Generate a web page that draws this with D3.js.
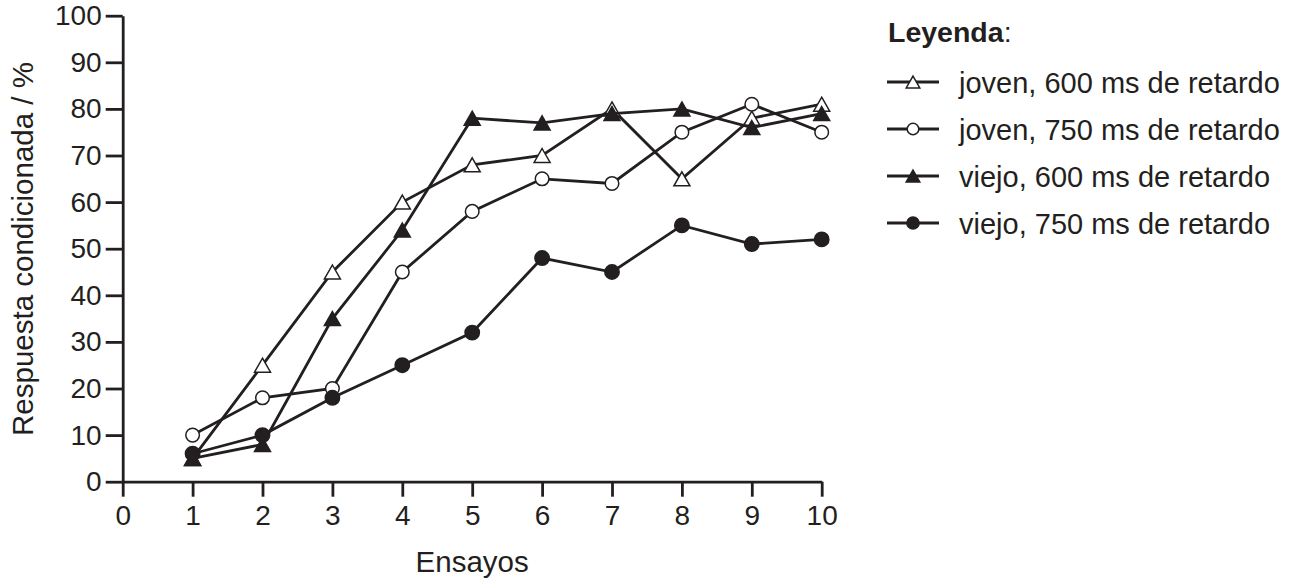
<!DOCTYPE html>
<html>
<head>
<meta charset="utf-8">
<script src="https://cdn.jsdelivr.net/npm/d3@7"></script>
<style>
html,body{margin:0;padding:0;background:#fff;}
svg text{font-family:"Liberation Sans",Arial,Helvetica,sans-serif;fill:#231f20;}
</style>
</head>
<body>
<svg id="chart" width="1302" height="579"></svg>
<script>
const trials = [1, 2, 3, 4, 5, 6, 7, 8, 9, 10];
const joven600 = [5, 25, 45, 60, 68, 70, 80, 65, 78, 81];
const joven750 = [10, 18, 20, 45, 58, 65, 64, 75, 81, 75];
const viejo600 = [5, 8, 35, 54, 78, 77, 79, 80, 76, 79];
const viejo750 = [6, 10, 18, 25, 32, 48, 45, 55, 51, 52];
const xTicks = [0, 1, 2, 3, 4, 5, 6, 7, 8, 9, 10];
const yTicks = [0, 10, 20, 30, 40, 50, 60, 70, 80, 90, 100];
const seriesNames = ["joven, 600 ms de retardo", "joven, 750 ms de retardo", "viejo, 600 ms de retardo", "viejo, 750 ms de retardo"];
const seriesShapes = ["triangle", "circle", "triangle", "circle"];
const seriesFilled = [false, false, true, true];
const xTitle = "Ensayos";
const yTitle = "Respuesta condicionada / %";
const legendTitle = "Leyenda";

const ink = "#231f20";
const svg = d3.select("#chart");
const x = d3.scaleLinear().domain([0, 10]).range([122.7, 821.7]);
const y = d3.scaleLinear().domain([0, 100]).range([481.7, 15.7]);

// axes
const xAxis = svg.append("g").attr("transform", `translate(0,${y(0)})`)
  .call(d3.axisBottom(x).tickValues(xTicks).tickSize(15).tickSizeOuter(0).tickPadding(8).tickFormat(d3.format("d")));
const yAxis = svg.append("g").attr("transform", `translate(${x(0)},0)`)
  .call(d3.axisLeft(y).tickValues(yTicks).tickSize(17).tickSizeOuter(0).tickPadding(4).tickFormat(d3.format("d")));
[xAxis, yAxis].forEach(g => {
  g.select(".domain").attr("stroke", ink).attr("stroke-width", 2.8);
  g.selectAll(".tick line").attr("stroke", ink).attr("stroke-width", 2.8);
  g.selectAll(".tick text").attr("font-size", 28).attr("fill", ink)
    .attr("font-family", '"Liberation Sans",Arial,sans-serif');
});

// titles
svg.append("text").attr("x", x(5)).attr("y", 571.5).attr("text-anchor", "middle")
  .attr("font-size", 29.5).text(xTitle);
svg.append("text").attr("transform", "translate(33,249) rotate(-90)").attr("text-anchor", "middle")
  .attr("font-size", 29.5).text(yTitle);

function marker(g, shape, filled, cx, cy, scale) {
  const s = scale || 1;
  if (shape === "triangle") {
    const w = 16 * s, h = 14 * s;
    g.append("path")
      .attr("d", `M${cx},${cy - h / 2}L${cx + w / 2},${cy + h / 2}L${cx - w / 2},${cy + h / 2}Z`)
      .attr("fill", filled ? ink : "#fff").attr("stroke", ink).attr("stroke-width", 1.5)
      .attr("stroke-linejoin", "miter");
  } else {
    g.append("circle").attr("cx", cx).attr("cy", cy).attr("r", (filled ? 7.2 : 6.8) * s)
      .attr("fill", filled ? ink : "#fff").attr("stroke", ink).attr("stroke-width", 1.5);
  }
}

const allSeries = [joven600, joven750, viejo600, viejo750];
const line = d3.line().x(d => x(d[0])).y(d => y(d[1]));
allSeries.forEach((vals, i) => {
  const g = svg.append("g");
  const pts = trials.map((t, j) => [t, vals[j]]);
  g.append("path").attr("d", line(pts)).attr("fill", "none").attr("stroke", ink)
    .attr("stroke-width", 2.8).attr("stroke-linejoin", "miter");
  pts.forEach(p => marker(g, seriesShapes[i], seriesFilled[i], x(p[0]), y(p[1])));
});

// legend
const lt = svg.append("text").attr("x", 888).attr("y", 42).attr("font-size", 28.5);
lt.append("tspan").attr("font-weight", "bold").text(legendTitle);
lt.append("tspan").text(":");
const rowY = [82, 129, 176, 223];
seriesNames.forEach((name, i) => {
  const g = svg.append("g");
  g.append("line").attr("x1", 887).attr("x2", 939).attr("y1", rowY[i]).attr("y2", rowY[i])
    .attr("stroke", ink).attr("stroke-width", 2.8);
  marker(g, seriesShapes[i], seriesFilled[i], 913, rowY[i], 0.85);
  g.append("text").attr("x", 959).attr("y", rowY[i] + 10.5)
    .attr("font-size", 29).text(name);
});
</script>
</body>
</html>
